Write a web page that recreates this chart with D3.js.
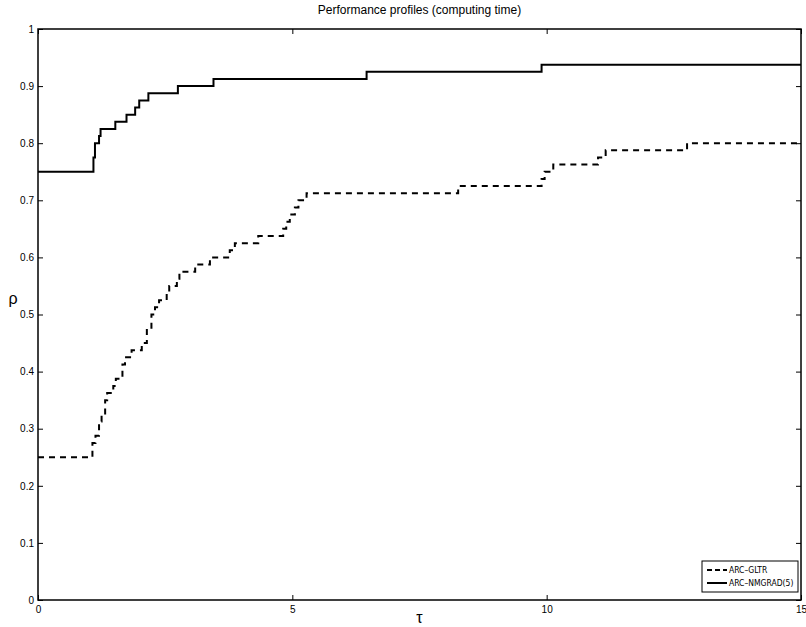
<!DOCTYPE html>
<html>
<head>
<meta charset="utf-8">
<script src="https://cdn.jsdelivr.net/npm/d3@7"></script>
<style>
  body { margin: 0; background: #fff; }
  text { font-family: "Liberation Sans", Arial, sans-serif; }
  .legend-label { font-family: "DejaVu Sans Condensed", "Liberation Sans Narrow", "Liberation Sans", sans-serif; }
</style>
</head>
<body>
<div id="chart"></div>
<script>
var margin = {top: 29, right: 5, bottom: 27, left: 38},
  width = 806 - margin.left - margin.right,
  height = 627 - margin.top - margin.bottom;

// step breakpoints (tau) and profile values (rho)
var gltrTau = [0, 1.07, 1.13, 1.2, 1.25, 1.32, 1.36, 1.48, 1.53, 1.66, 1.71, 1.84, 2.04, 2.14, 2.23, 2.3, 2.38,
  2.53, 2.58, 2.73, 2.78, 3.09, 3.38, 3.77, 3.87, 4.33, 4.82, 4.88, 4.95, 5.05, 5.12, 5.28, 8.26, 9.9, 9.96,
  10.13, 11.01, 11.16, 12.76, 15];
var gltrRho = [0.25, 0.275, 0.2875, 0.3125, 0.325, 0.35, 0.3625, 0.375, 0.3875, 0.4125, 0.425, 0.4375, 0.45,
  0.475, 0.5, 0.5125, 0.525, 0.5375, 0.55, 0.5625, 0.575, 0.5875, 0.6, 0.6125, 0.625, 0.6375, 0.65, 0.6625,
  0.675, 0.6875, 0.7, 0.7125, 0.725, 0.7375, 0.75, 0.7625, 0.775, 0.7875, 0.8, 0.8];

var nmgradTau = [0, 1.09, 1.12, 1.2, 1.23, 1.52, 1.74, 1.91, 1.99, 2.17, 2.75, 3.45, 6.46, 9.9, 15];
var nmgradRho = [0.75, 0.775, 0.8, 0.8125, 0.825, 0.8375, 0.85, 0.8625, 0.875, 0.8875, 0.9, 0.9125, 0.925,
  0.9375, 0.9375];

var xTicks = [0, 5, 10, 15];
var yTicks = [0, 0.1, 0.2, 0.3, 0.4, 0.5, 0.6, 0.7, 0.8, 0.9, 1];

var seriesNames = ["ARC\u2013GLTR", "ARC\u2013NMGRAD(5)"];
var seriesDash = ["6,5", null];

var svg = d3.select("#chart")
  .append("svg")
  .attr("width", 806)
  .attr("height", 627);

var g = svg.append("g")
  .attr("transform", "translate(" + margin.left + "," + margin.top + ")");

var x = d3.scaleLinear().domain([0, 15]).range([0, width]);
var y = d3.scaleLinear().domain([0, 1]).range([height, 0]);

// axes: ticks point inward on all four sides
function styleAxis(sel) {
  sel.select(".domain").remove();
  sel.selectAll(".tick line").attr("stroke", "#000");
  sel.selectAll(".tick text")
    .style("font-size", "10px")
    .attr("fill", "#000");
}

g.append("g")
  .attr("transform", "translate(0," + height + ")")
  .call(d3.axisBottom(x).tickValues(xTicks).tickSize(-5).tickPadding(6).tickFormat(d3.format("d")))
  .call(styleAxis);

g.append("g")
  .call(d3.axisTop(x).tickValues(xTicks).tickSize(-5).tickFormat(""))
  .call(styleAxis);

g.append("g")
  .call(d3.axisLeft(y).tickValues(yTicks).tickSize(-5).tickPadding(4).tickFormat(function(d) { return d3.format("")(+d.toFixed(1)); }))
  .call(styleAxis);

g.append("g")
  .attr("transform", "translate(" + width + ",0)")
  .call(d3.axisRight(y).tickValues(yTicks).tickSize(-5).tickFormat(""))
  .call(styleAxis);

// box
g.append("rect")
  .attr("width", width)
  .attr("height", height)
  .attr("fill", "none")
  .attr("stroke", "#000")
  .attr("stroke-width", 1.5);

// curves
var line = d3.line()
  .curve(d3.curveStepAfter)
  .x(function(d) { return x(d[0]); })
  .y(function(d) { return y(d[1]); });

var series = [d3.zip(gltrTau, gltrRho), d3.zip(nmgradTau, nmgradRho)];

g.selectAll(".profile")
  .data(series)
  .enter()
  .append("path")
    .attr("class", "profile")
    .attr("d", line)
    .attr("fill", "none")
    .attr("stroke", "#000")
    .attr("stroke-width", 2)
    .attr("stroke-dasharray", function(d, i) { return seriesDash[i]; });

// title and axis labels
svg.append("text")
  .attr("x", margin.left + width / 2)
  .attr("y", 14)
  .attr("text-anchor", "middle")
  .style("font-size", "12px")
  .text("Performance profiles (computing time)");

svg.append("text")
  .attr("x", margin.left + width / 2)
  .attr("y", 623)
  .attr("text-anchor", "middle")
  .style("font-size", "16px")
  .text("\u03c4");

svg.append("text")
  .attr("x", 13)
  .attr("y", 304)
  .attr("text-anchor", "middle")
  .style("font-size", "16px")
  .text("\u03c1");

// legend
var legend = svg.append("g")
  .attr("transform", "translate(702,561)");

legend.append("rect")
  .attr("width", 96)
  .attr("height", 31)
  .attr("fill", "#fff")
  .attr("stroke", "#000")
  .attr("stroke-width", 1);

seriesNames.forEach(function(name, i) {
  var row = legend.append("g").attr("transform", "translate(0," + (9 + i * 13) + ")");
  row.append("line")
    .attr("x1", 5).attr("x2", 25)
    .attr("stroke", "#000")
    .attr("stroke-width", 2)
    .attr("stroke-dasharray", seriesDash[i] ? "5,3" : null);
  row.append("text")
    .attr("class", "legend-label")
    .attr("x", 27)
    .attr("dy", "0.35em")
    .style("font-size", "8.5px")
    .text(name);
});
</script>
</body>
</html>
